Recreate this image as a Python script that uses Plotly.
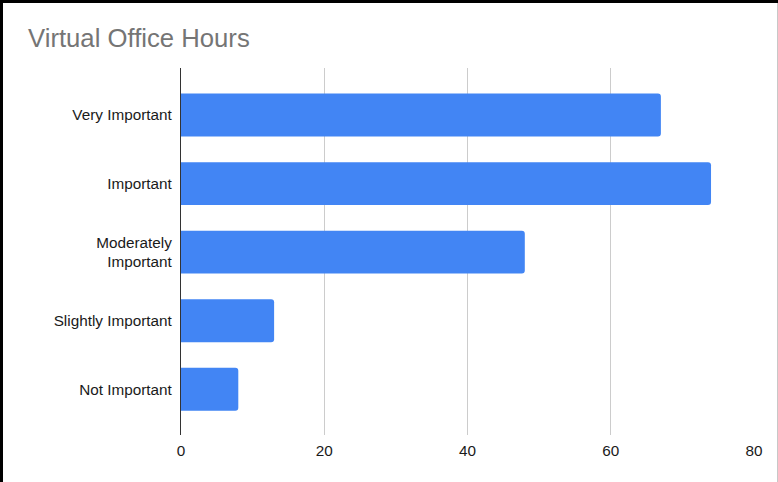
import plotly.graph_objects as go

# Survey responses: importance of virtual office hours
categories = ["Very Important", "Important", "Moderately<br>Important",
              "Slightly Important", "Not Important"]
counts = [67, 74, 48, 13, 8]
x_ticks = [0, 20, 40, 60, 80]

W, H = 778, 482
L, R, T, B = 181, 24, 68, 47
pw, ph = W - L - R, H - T - B

fig = go.Figure(
    go.Bar(
        y=categories,
        x=counts,
        orientation="h",
        marker=dict(color="#4285F4", line=dict(width=0), cornerradius=3),
        hoverinfo="x+y",
    )
)

font = "Liberation Sans, Arial, sans-serif"

# frame around the chart (left/top dark, right light)
def px_x(p):
    return (p - L) / pw

def px_y(p):
    return (H - B - p) / ph

shapes = [
    dict(type="rect", xref="paper", yref="paper", x0=px_x(0), x1=px_x(3),
         y0=px_y(H), y1=px_y(0), fillcolor="#000", line=dict(width=0), layer="above"),
    dict(type="rect", xref="paper", yref="paper", x0=px_x(0), x1=px_x(W),
         y0=px_y(3), y1=px_y(0), fillcolor="#000", line=dict(width=0), layer="above"),
    dict(type="line", xref="paper", yref="paper", x0=px_x(777.5), x1=px_x(777.5),
         y0=px_y(H), y1=px_y(3), line=dict(color="#c8c8c8", width=1), layer="above"),
]

fig.update_layout(
    width=W, height=H,
    margin=dict(l=L, r=R, t=T, b=B),
    paper_bgcolor="white", plot_bgcolor="white",
    title=dict(text="Virtual Office Hours", x=28 / W, xanchor="left",
               xref="container", yref="container", y=1 - 38 / H, yanchor="middle",
               font=dict(family=font, size=25.7, color="#757575")),
    bargap=0.375,
    showlegend=False,
    shapes=shapes,
    font=dict(family=font, size=15, color="#222"),
)

fig.update_xaxes(
    range=[0, 80], tickvals=x_ticks, ticktext=[str(v) for v in x_ticks],
    showgrid=True, gridcolor="#cccccc", gridwidth=1,
    zeroline=False, showline=False, ticks="",
    ticklabelstandoff=5,
    tickfont=dict(family=font, size=15.3, color="#1a1a1a"),
    fixedrange=True,
)
fig.update_yaxes(
    range=[4.667, -0.686], showgrid=False, zeroline=False,
    showline=True, linecolor="#333", linewidth=1.2, ticks="",
    ticklabelstandoff=5,
    tickfont=dict(family=font, size=15.3, color="#1a1a1a"),
    fixedrange=True,
)

fig.write_html("out.html", config={"displayModeBar": False})
